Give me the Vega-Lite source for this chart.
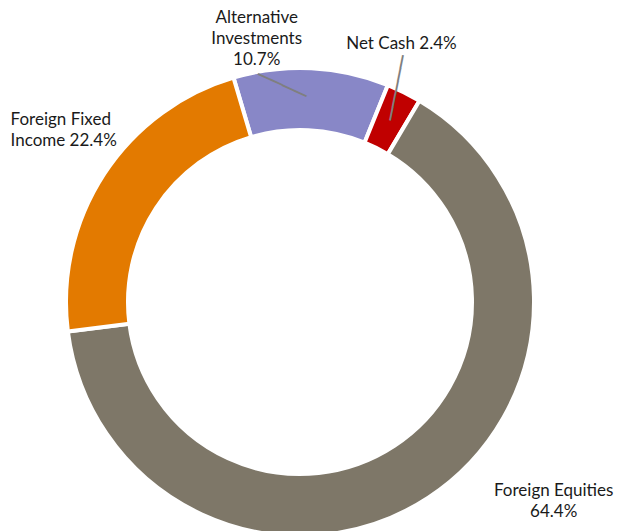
{
  "$schema": "https://vega.github.io/schema/vega-lite/v6.json",
  "width": 600,
  "height": 458,
  "autosize": "none",
  "padding": {"left": 0, "top": 73, "right": 17, "bottom": 0},
  "background": "white",
  "config": {"view": {"stroke": null}, "text": {"font": "Lato"}},
  "data": {
    "values": [
      {"category": "Alternative Investments", "share": 10.7, "rank": 1, "label": "Alternative\nInvestments\n10.7%"},
      {"category": "Net Cash", "share": 2.4, "rank": 2, "label": "Net Cash 2.4%"},
      {"category": "Foreign Equities", "share": 64.4, "rank": 3, "label": "Foreign Equities\n64.4%"},
      {"category": "Foreign Fixed Income", "share": 22.4, "rank": 4, "label": "Foreign Fixed\nIncome 22.4%"}
    ]
  },
  "layer": [
    {
      "mark": {"type": "arc", "outerRadius": 234, "innerRadius": 172, "stroke": "white", "strokeWidth": 4},
      "encoding": {
        "theta": {"field": "share", "type": "quantitative", "stack": true, "scale": {"range": [-0.288, 5.995]}},
        "order": {"field": "rank", "type": "quantitative"},
        "color": {
          "field": "category", "type": "nominal", "legend": null,
          "scale": {
            "domain": ["Alternative Investments", "Net Cash", "Foreign Equities", "Foreign Fixed Income"],
            "range": ["#8887C7", "#C00000", "#7E7768", "#E37A00"]
          }
        }
      }
    },
    {
      "mark": {"type": "text", "radius": 220, "font": "DejaVu Sans", "fontSize": 22, "angle": 24.7, "align": "center", "baseline": "middle", "dx": -24.6, "dy": 14.9, "color": "#7F7F7F"},
      "encoding": {
        "theta": {"field": "share", "type": "quantitative", "stack": true},
        "order": {"field": "rank", "type": "quantitative"},
        "text": {"condition": {"test": "datum.category === 'Alternative Investments'", "value": "────"}, "value": ""}
      }
    },
    {
      "mark": {"type": "text", "radius": 220, "font": "DejaVu Sans", "fontSize": 22, "angle": -78.7, "align": "center", "baseline": "middle", "dx": 16.5, "dy": -4, "color": "#7F7F7F"},
      "encoding": {
        "theta": {"field": "share", "type": "quantitative", "stack": true},
        "order": {"field": "rank", "type": "quantitative"},
        "text": {"condition": {"test": "datum.category === 'Net Cash'", "value": "─────"}, "value": ""}
      }
    },
    {
      "mark": {"type": "text", "radius": 262, "fontSize": 17, "lineBreak": "\n", "lineHeight": 21, "align": "center", "baseline": "middle", "dx": -56, "dy": -22, "color": "#1A1A1A"},
      "encoding": {
        "theta": {"field": "share", "type": "quantitative", "stack": true},
        "order": {"field": "rank", "type": "quantitative"},
        "text": {"condition": {"test": "datum.category === 'Alternative Investments'", "field": "label"}, "value": ""}
      }
    },
    {
      "mark": {"type": "text", "radius": 262, "fontSize": 17, "lineBreak": "\n", "lineHeight": 21, "align": "center", "baseline": "middle", "dx": -15, "dy": -23, "color": "#1A1A1A"},
      "encoding": {
        "theta": {"field": "share", "type": "quantitative", "stack": true},
        "order": {"field": "rank", "type": "quantitative"},
        "text": {"condition": {"test": "datum.category === 'Net Cash'", "field": "label"}, "value": ""}
      }
    },
    {
      "mark": {"type": "text", "radius": 262, "fontSize": 17, "lineBreak": "\n", "lineHeight": 21, "align": "center", "baseline": "middle", "dx": 110, "dy": -30, "color": "#1A1A1A"},
      "encoding": {
        "theta": {"field": "share", "type": "quantitative", "stack": true},
        "order": {"field": "rank", "type": "quantitative"},
        "text": {"condition": {"test": "datum.category === 'Foreign Equities'", "field": "label"}, "value": ""}
      }
    },
    {
      "mark": {"type": "text", "radius": 262, "fontSize": 17, "lineBreak": "\n", "lineHeight": 21, "align": "left", "baseline": "middle", "dx": -70, "dy": -39, "color": "#1A1A1A"},
      "encoding": {
        "theta": {"field": "share", "type": "quantitative", "stack": true},
        "order": {"field": "rank", "type": "quantitative"},
        "text": {"condition": {"test": "datum.category === 'Foreign Fixed Income'", "field": "label"}, "value": ""}
      }
    }
  ]
}
